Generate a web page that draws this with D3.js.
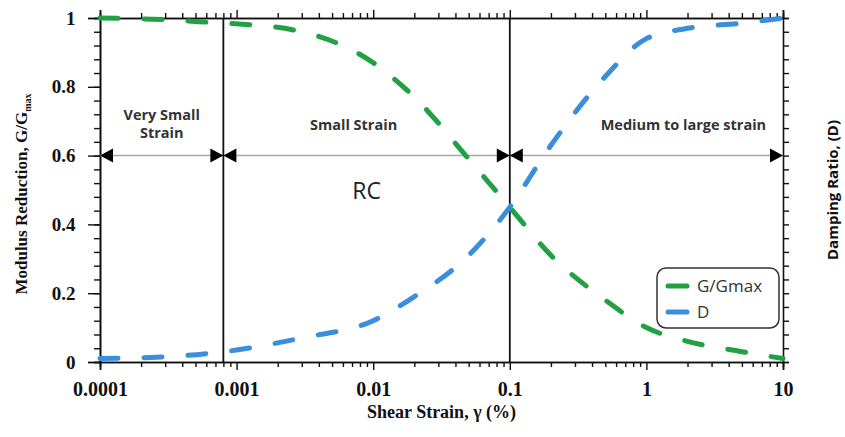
<!DOCTYPE html>
<html>
<head>
<meta charset="utf-8">
<script src="https://cdn.jsdelivr.net/npm/d3@7"></script>
<style>
  body { margin: 0; background: #fff; }
  svg { display: block; }
</style>
</head>
<body>
<div id="chart"></div>
<script>
// shear strain (%) values
var strain = [0.0001, 0.0003, 0.0008, 0.001, 0.003, 0.01, 0.02, 0.05, 0.1, 0.2, 0.5, 1, 2, 5, 10];
var gRatio = [1.0, 0.995, 0.985, 0.983, 0.96, 0.87, 0.77, 0.59, 0.45, 0.31, 0.18, 0.10, 0.06, 0.03, 0.01];
var damping = [0.01, 0.015, 0.03, 0.035, 0.07, 0.12, 0.19, 0.31, 0.45, 0.63, 0.83, 0.94, 0.97, 0.985, 1.0];

var xTickValues = [0.0001, 0.001, 0.01, 0.1, 1, 10];
var xTickLabels = ["0.0001", "0.001", "0.01", "0.1", "1", "10"];
var yTickValues = [0, 0.2, 0.4, 0.6, 0.8, 1];
var yTickLabels = ["0", "0.2", "0.4", "0.6", "0.8", "1"];

// strain zone limits and names
var zoneEdges = [0.0001, 0.0008, 0.1, 10];
var zoneNames = [["Very Small", "Strain"], ["Small Strain"], ["Medium to large strain"]];
var zoneShift = [0, -13, 37];
var zoneLevel = 0.6;

var seriesNames = ["G/Gmax", "D"];
var seriesColors = ["#22a143", "#3a8edb"];

var width = 845, height = 437,
    margin = {top: 18, right: 62, bottom: 75, left: 100};

var svg = d3.select("#chart").append("svg")
    .attr("width", width)
    .attr("height", height);

var x = d3.scaleLog().domain([0.0001, 10]).range([margin.left, width - margin.right]);
var y = d3.scaleLinear().domain([0, 1]).range([height - margin.bottom, margin.top]);

var minorX = x.ticks().filter(function(d) { return xTickValues.indexOf(d) < 0; });
var minorY = d3.range(0, 1.0001, 0.04).map(function(d) { return +d.toFixed(2); });

// bottom axis
var axBottom = svg.append("g").attr("transform", "translate(0," + y(0) + ")");
axBottom.call(d3.axisBottom(x).tickValues(minorX).tickSize(5).tickFormat(""));
axBottom.append("g").call(d3.axisBottom(x).tickValues(xTickValues).tickSize(8)
    .tickFormat(function(d, i) { return xTickLabels[i]; }));

// top axis
var axTop = svg.append("g").attr("transform", "translate(0," + y(1) + ")");
axTop.call(d3.axisTop(x).tickValues(minorX).tickSize(5).tickFormat(""));
axTop.append("g").call(d3.axisTop(x).tickValues(xTickValues).tickSize(8).tickFormat(""));

// left axis
var axLeft = svg.append("g").attr("transform", "translate(" + x(0.0001) + ",0)");
axLeft.call(d3.axisLeft(y).tickValues(minorY).tickSize(6).tickFormat(""));
axLeft.append("g").call(d3.axisLeft(y).tickValues(yTickValues).tickSize(12)
    .tickFormat(function(d, i) { return yTickLabels[i]; }));

// right axis (no labels)
var axRight = svg.append("g").attr("transform", "translate(" + x(10) + ",0)");
axRight.call(d3.axisRight(y).tickValues(minorY).tickSize(6).tickFormat(""));

svg.selectAll(".domain").attr("stroke", "#111").attr("stroke-width", 1.6);
svg.selectAll(".tick line").attr("stroke", "#111").attr("stroke-width", 1.4);
svg.selectAll(".tick text")
    .style("font-family", "'Liberation Serif', 'Times New Roman', serif")
    .style("font-weight", "bold")
    .attr("fill", "#111");
axBottom.selectAll(".tick text").style("font-size", "20px").attr("dy", "1.15em");
axLeft.selectAll(".tick text").style("font-size", "19px").attr("dx", "-0.5em");

// zone level line and vertical zone boundaries
svg.append("line")
    .attr("x1", x(zoneEdges[0])).attr("x2", x(zoneEdges[3]))
    .attr("y1", y(zoneLevel)).attr("y2", y(zoneLevel))
    .attr("stroke", "#a8a8a8").attr("stroke-width", 1.5);

svg.selectAll(".zoneedge")
    .data(zoneEdges.slice(1, 3))
    .enter().append("line")
    .attr("class", "zoneedge")
    .attr("x1", function(d) { return x(d); })
    .attr("x2", function(d) { return x(d); })
    .attr("y1", y(1)).attr("y2", y(0))
    .attr("stroke", "#111").attr("stroke-width", 1.8);

// arrow heads at each zone end
var arrows = [];
for (var i = 0; i < zoneNames.length; i++) {
    arrows.push({at: zoneEdges[i], dir: -1});
    arrows.push({at: zoneEdges[i + 1], dir: 1});
}
svg.selectAll(".arrow")
    .data(arrows)
    .enter().append("path")
    .attr("class", "arrow")
    .attr("d", function(d) {
        var tx = x(d.at), ty = y(zoneLevel);
        var bx = tx - d.dir * 13;
        return "M" + tx + "," + ty + "L" + bx + "," + (ty - 7) + "L" + bx + "," + (ty + 7) + "Z";
    })
    .attr("fill", "#000");

// zone names
svg.selectAll(".zonename")
    .data(zoneNames)
    .enter().append("text")
    .attr("class", "zonename")
    .attr("x", function(d, i) { return (x(zoneEdges[i]) + x(zoneEdges[i + 1])) / 2 + zoneShift[i]; })
    .attr("y", function(d) { return d.length > 1 ? y(zoneLevel) - 36 : y(zoneLevel) - 26; })
    .attr("text-anchor", "middle")
    .style("font-family", "'Open Sans', sans-serif")
    .style("font-weight", "bold")
    .style("font-size", "14.5px")
    .attr("fill", "#333")
    .each(function(d) {
        var t = d3.select(this);
        d.forEach(function(line, k) {
            t.append("tspan").attr("x", t.attr("x")).attr("dy", k ? "1.3em" : 0).text(line);
        });
    });

svg.append("text")
    .attr("x", (x(zoneEdges[1]) + x(zoneEdges[2])) / 2)
    .attr("y", y(0.475))
    .attr("text-anchor", "middle")
    .style("font-family", "'Open Sans', sans-serif")
    .style("font-size", "23px")
    .attr("fill", "#222")
    .text("RC");

// curves
var series = [gRatio, damping];
var line = d3.line()
    .x(function(d) { return x(d[0]); })
    .y(function(d) { return y(d[1]); })
    .curve(d3.curveMonotoneX);

svg.selectAll(".curve")
    .data(series)
    .enter().append("path")
    .attr("class", "curve")
    .attr("d", function(vals) { return line(strain.map(function(s, i) { return [s, vals[i]]; })); })
    .attr("fill", "none")
    .attr("stroke", function(d, i) { return seriesColors[i]; })
    .attr("stroke-width", 5)
    .attr("stroke-linecap", "round")
    .attr("stroke-dasharray", "18,26");

// legend
var lg = svg.append("g").attr("transform", "translate(657,268)");
lg.append("rect")
    .attr("width", 122).attr("height", 60)
    .attr("rx", 9)
    .attr("fill", "#fff")
    .attr("stroke", "#333").attr("stroke-width", 1.5);
seriesNames.forEach(function(name, i) {
    var ly = 18 + i * 26;
    lg.append("line")
        .attr("x1", 11).attr("x2", 30).attr("y1", ly).attr("y2", ly)
        .attr("stroke", seriesColors[i]).attr("stroke-width", 5)
        .attr("stroke-linecap", "round");
    lg.append("text")
        .attr("x", 40).attr("y", ly + 6)
        .style("font-family", "'Open Sans', sans-serif")
        .style("font-size", "17px")
        .attr("fill", "#333")
        .text(name);
});

// axis titles
var serif = "'Liberation Serif', 'Times New Roman', serif";
svg.append("text")
    .attr("x", (x(0.0001) + x(10)) / 2)
    .attr("y", 418)
    .attr("text-anchor", "middle")
    .style("font-family", serif)
    .style("font-weight", "bold")
    .style("font-size", "18px")
    .attr("fill", "#111")
    .text("Shear Strain, \u03b3 (%)");

var yt = svg.append("text")
    .attr("transform", "translate(27," + (y(0.5) + 4) + ") rotate(-90)")
    .attr("text-anchor", "middle")
    .style("font-family", serif)
    .style("font-weight", "bold")
    .style("font-size", "17px")
    .attr("fill", "#111");
yt.append("tspan").text("Modulus Reduction, G/G");
yt.append("tspan").attr("dy", 4).style("font-size", "10px").text("max");

svg.append("text")
    .attr("transform", "translate(838," + y(0.5) + ") rotate(-90)")
    .attr("text-anchor", "middle")
    .style("font-family", "'Open Sans', sans-serif")
    .style("font-weight", "bold")
    .style("font-size", "15px")
    .attr("fill", "#111")
    .text("Damping Ratio, (D)");
</script>
</body>
</html>
